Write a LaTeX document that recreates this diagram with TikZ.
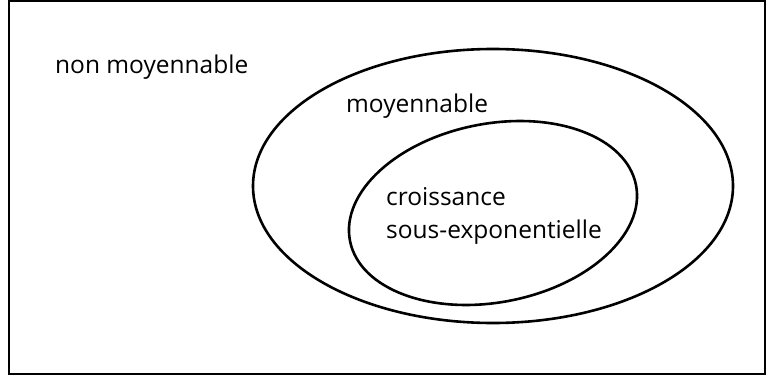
\documentclass[tikz,border=0pt]{standalone}
\usepackage{fontspec}
\setmainfont{Open Sans}
\tikzset{
  setlabel/.style={anchor=base west,inner sep=0pt,font=\fontsize{24.5}{33}\selectfont},
  setline/.style={line width=2.6pt}
}
\begin{document}
\begin{tikzpicture}[x=1pt,y=-1pt]
\useasboundingbox (0,0) rectangle (766,380);
% universe
\draw[line width=2.2pt] (9,1) rectangle (765,374);
\node[setlabel] (nonmoy) at (55,73) {non moyennable};

% amenable groups
\draw[setline] (493,186) ellipse [x radius=240pt,y radius=137pt];
\node[setlabel] (moy) at (346,112) {moyennable};

% subexponential growth
\draw[setline,rotate around={11:(493,213)}] (493,213) ellipse [x radius=145.7pt,y radius=89.3pt];
\node[setlabel] (crois) at (386,205) {croissance};
\node[setlabel] (sousexp) at (386,238) {sous-exponentielle};
\end{tikzpicture}
\end{document}
